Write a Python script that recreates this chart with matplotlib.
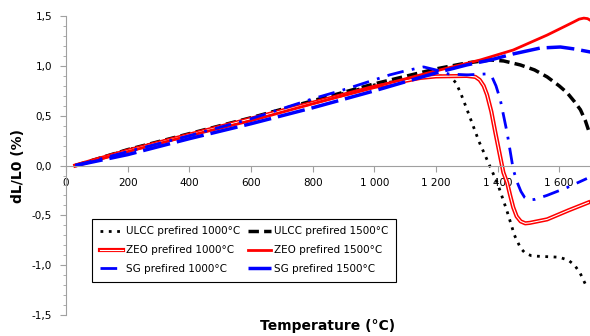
import matplotlib.pyplot as plt
import matplotlib.patheffects as pe
from matplotlib.ticker import FuncFormatter, MultipleLocator

# data (temperature in degC, dL/L0 in %)
t_ulcc1000 = [30, 200, 400, 600, 800, 1000, 1150, 1230, 1248, 1265, 1280, 1300, 1340, 1370,
              1400, 1430, 1455, 1475, 1490, 1510, 1530, 1600, 1630, 1650, 1668, 1685]
y_ulcc1000 = [0, 0.16, 0.31, 0.47, 0.64, 0.81, 0.89, 0.9, 0.89, 0.83, 0.73, 0.57, 0.24, 0.03,
              -0.18, -0.45, -0.7, -0.83, -0.88, -0.905, -0.91, -0.92, -0.95, -1.0, -1.08, -1.19]

t_ulcc1500 = [30, 200, 400, 600, 800, 1000, 1200, 1300, 1377, 1420, 1474, 1520, 1561, 1600,
              1626, 1650, 1669, 1685, 1698]
y_ulcc1500 = [0, 0.16, 0.32, 0.48, 0.65, 0.82, 0.97, 1.03, 1.06, 1.05, 1.01, 0.96, 0.89, 0.8,
              0.73, 0.64, 0.56, 0.45, 0.33]

t_zeo1000 = [30, 200, 400, 600, 800, 1000, 1150, 1200, 1300, 1328, 1342, 1355, 1366, 1380, 1393,
             1419, 1431, 1441, 1451, 1462, 1475, 1490, 1505, 1561, 1630, 1695]
y_zeo1000 = [0, 0.15, 0.31, 0.47, 0.63, 0.79, 0.88, 0.895, 0.9, 0.89, 0.86, 0.8, 0.71, 0.54, 0.33,
             -0.07, -0.17, -0.3, -0.42, -0.51, -0.56, -0.58, -0.575, -0.54, -0.45, -0.37]

t_zeo1500 = [30, 200, 400, 600, 800, 1000, 1200, 1344, 1451, 1561, 1620, 1646, 1665, 1680,
             1692, 1700]
y_zeo1500 = [0, 0.14, 0.3, 0.45, 0.62, 0.79, 0.95, 1.06, 1.16, 1.31, 1.4, 1.44, 1.47, 1.48,
             1.475, 1.46]

t_sg1000 = [30, 200, 400, 600, 800, 900, 1000, 1050, 1100, 1160, 1200, 1240, 1300, 1365, 1382,
            1395, 1409, 1431, 1451, 1464, 1476, 1488, 1500, 1520, 1560, 1626, 1690]
y_sg1000 = [0, 0.14, 0.3, 0.47, 0.67, 0.76, 0.86, 0.91, 0.95, 0.99, 0.96, 0.92, 0.91, 0.92, 0.89,
            0.8, 0.66, 0.33, -0.04, -0.17, -0.26, -0.32, -0.345, -0.34, -0.3, -0.22, -0.13]

t_sg1500 = [30, 200, 400, 600, 800, 1000, 1200, 1300, 1377, 1450, 1539, 1604, 1650, 1701]
y_sg1500 = [0, 0.11, 0.27, 0.42, 0.58, 0.75, 0.93, 1.01, 1.06, 1.12, 1.18, 1.19, 1.17, 1.14]

x_ticks = [0, 200, 400, 600, 800, 1000, 1200, 1400, 1600]
y_ticks = [-1.5, -1.0, -0.5, 0.0, 0.5, 1.0, 1.5]

plt.rcParams['font.family'] = ['DejaVu Sans']
fig = plt.figure(figsize=(5.9, 3.36), dpi=100)
ax = fig.add_axes([0.112, 0.0625, 0.888, 0.8895])

l1, = ax.plot(t_ulcc1000, y_ulcc1000, color='black', lw=2, ls=(0, (1, 2)),
              label='ULCC prefired 1000°C')
l3, = ax.plot(t_ulcc1500, y_ulcc1500, color='black', lw=2.5, ls=(0, (3, 1.5)),
              label='ULCC prefired 1500°C')
l2, = ax.plot(t_zeo1000, y_zeo1000, color='white', lw=0.8,
              path_effects=[pe.Stroke(linewidth=3, foreground='red'), pe.Normal()],
              label='ZEO prefired 1000°C')
l4, = ax.plot(t_zeo1500, y_zeo1500, color='red', lw=2,
              label='ZEO prefired 1500°C')
l5, = ax.plot(t_sg1000, y_sg1000, color='blue', lw=2, ls=(0, (6, 3, 1, 3)),
              label='SG prefired 1000°C')
l6, = ax.plot(t_sg1500, y_sg1500, color='blue', lw=2.5, ls=(0, (8, 2)),
              label='SG prefired 1500°C')

ax.set_xlim(0, 1700)
ax.set_ylim(-1.5, 1.5)
ax.spines['left'].set_position(('data', 0))
ax.spines['bottom'].set_position(('data', 0))
ax.spines['top'].set_visible(False)
ax.spines['right'].set_visible(False)
for s in ['left', 'bottom']:
    ax.spines[s].set_color('#a0a0a0')

ax.set_xticks(x_ticks)
ax.set_yticks(y_ticks)
ax.yaxis.set_minor_locator(MultipleLocator(0.1))
ax.xaxis.set_major_formatter(FuncFormatter(lambda v, p: f'{int(v):,}'.replace(',', ' ')))
ax.yaxis.set_major_formatter(FuncFormatter(lambda v, p: f'{v:.1f}'.replace('.', ',')))
ax.tick_params(axis='both', which='both', color='#a0a0a0', labelsize=7.5)
ax.tick_params(axis='x', direction='out', length=4, pad=5)
ax.tick_params(axis='y', which='major', direction='out', length=4, pad=6)
ax.tick_params(axis='y', which='minor', direction='out', length=2.5)

fig.text(0.555, 0.03, 'Temperature (°C)', ha='center', va='center',
         fontsize=10, fontweight='bold')
fig.text(0.03, 0.506, 'dL/L0 (%)', ha='center', va='center', rotation=90,
         fontsize=10, fontweight='bold')

leg = ax.legend(handles=[l1, l2, l5, l3, l4, l6], ncol=2, fontsize=7.5,
                loc='upper left', bbox_to_anchor=(0.04, 0.34), frameon=True,
                fancybox=False, edgecolor='black', framealpha=1,
                handlelength=2.2, handletextpad=0.3, columnspacing=0.7,
                labelspacing=0.85, borderpad=0.75)
leg.get_frame().set_linewidth(0.8)

fig.savefig('out.png', dpi=100)
